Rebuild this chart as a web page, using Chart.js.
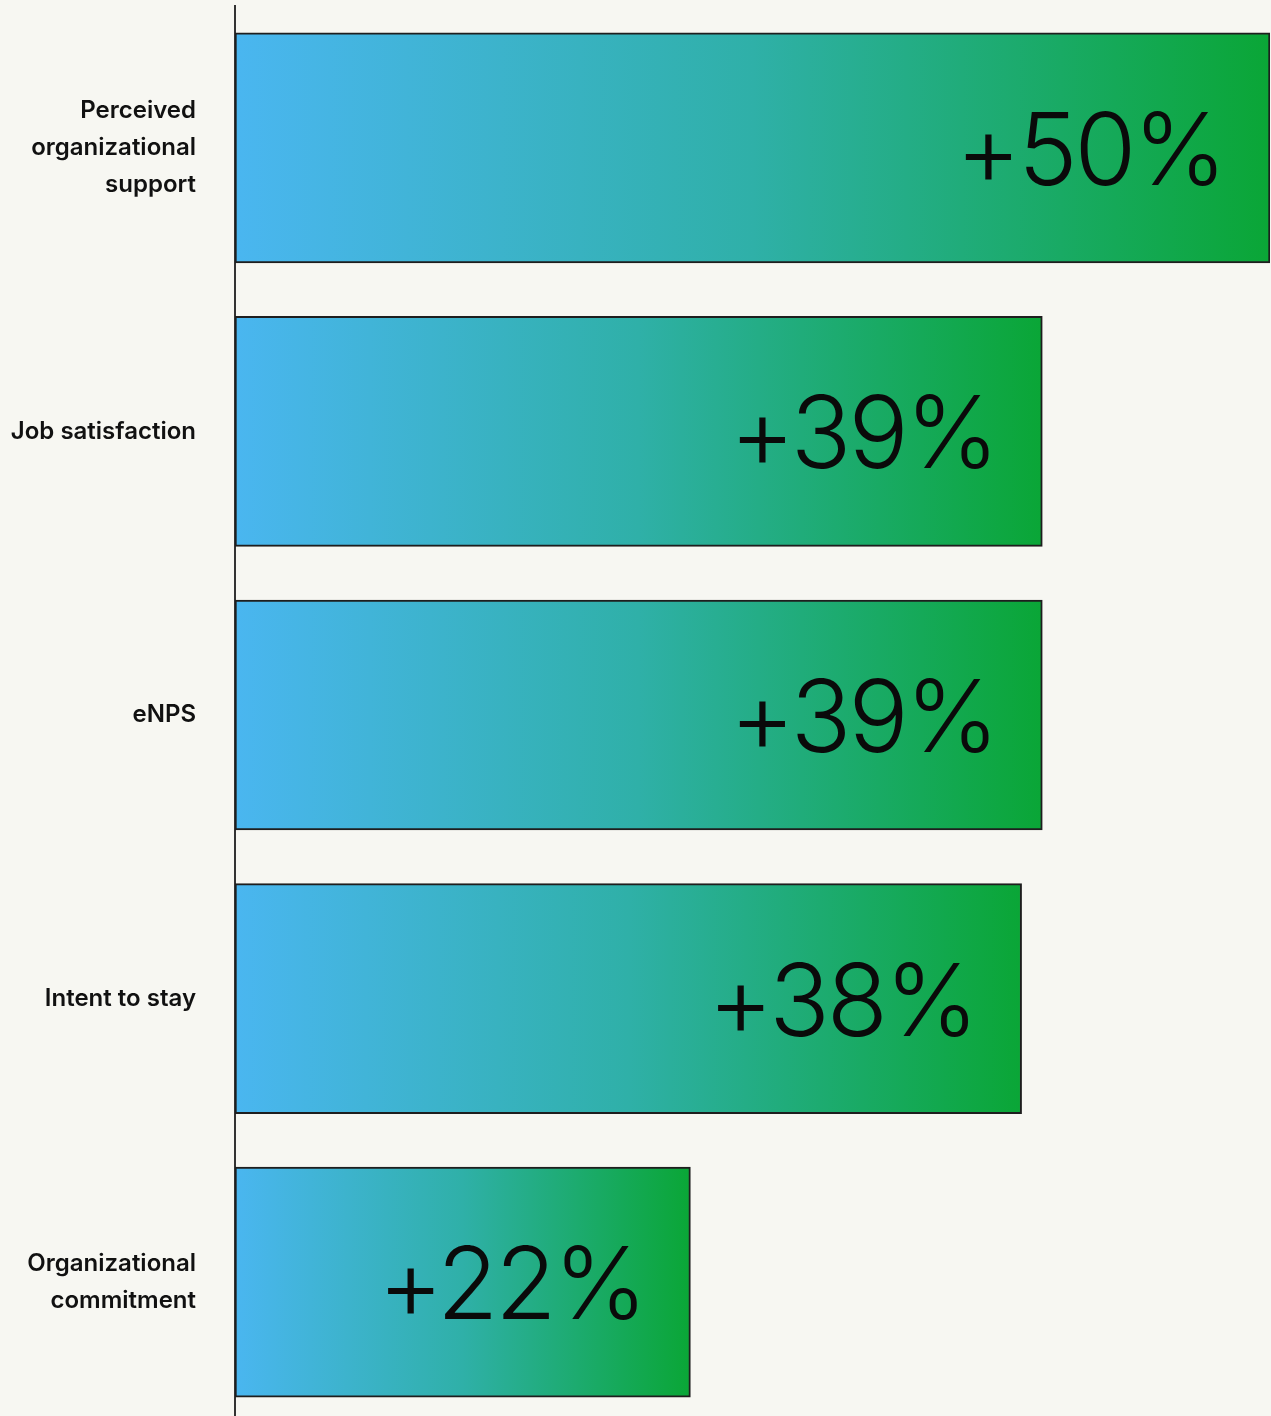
<!DOCTYPE html>
<html>
<head>
<meta charset="utf-8">
<script src="https://cdn.jsdelivr.net/npm/chart.js@4/dist/chart.umd.min.js"></script>
<style>
	html, body { margin: 0; padding: 0; background: #f7f7f2; overflow: hidden; }
	#chart { display: block; }
</style>
</head>
<body>
<canvas id="chart" width="1271" height="1424"></canvas>
<script>
var categories = [
	["Perceived", "organizational", "support"],
	"Job satisfaction",
	"eNPS",
	"Intent to stay",
	["Organizational", "commitment"]
];
var increase = [50, 39, 39, 38, 22];
var axisMax = 50;

function barGradient(context) {
	if (context.type !== 'data') return '#4ab5ee';
	var chart = context.chart;
	if (!chart.chartArea) return '#4ab5ee';
	var xs = chart.scales.x;
	var x0 = xs.getPixelForValue(0);
	var x1 = xs.getPixelForValue(context.raw);
	var g = chart.ctx.createLinearGradient(x0, 0, x1, 0);
	g.addColorStop(0, '#4ab6f0');
	g.addColorStop(0.5, '#2fb0a8');
	g.addColorStop(1, '#0aa636');
	return g;
}

// big "+NN%" text sitting inside the right end of each bar
var valueLabels = {
	id: 'valueLabels',
	afterDatasetsDraw: function(chart) {
		var ctx = chart.ctx;
		var meta = chart.getDatasetMeta(0);
		ctx.save();
		ctx.font = '300 100px Inter';
		ctx.letterSpacing = '-3px';
		ctx.fillStyle = '#0a0a0a';
		ctx.textAlign = 'right';
		ctx.textBaseline = 'alphabetic';
		meta.data.forEach(function(bar, i) {
			ctx.fillText('+' + increase[i] + '%', bar.x - 46, bar.y + 37);
		});
		ctx.restore();
	}
};

var ctx = document.getElementById('chart');
var myChart = new Chart(ctx, {
	type: 'bar',
	data: {
		labels: categories,
		datasets: [{
			data: increase,
			backgroundColor: barGradient,
			borderColor: '#1e1e1e',
			borderWidth: 2,
			borderSkipped: false,
			barThickness: 230
		}]
	},
	options: {
		indexAxis: 'y',
		responsive: false,
		animation: false,
		layout: { autoPadding: false, padding: { top: 6, right: 1, bottom: 0, left: 0 } },
		plugins: {
			legend: { display: false },
			tooltip: { enabled: false }
		},
		scales: {
			x: {
				display: false,
				min: 0,
				max: axisMax
			},
			y: {
				afterFit: function(scale) {
					// fixed label column, no extra room above/below for the labels
					scale.width = 235;
					scale.paddingTop = 0;
					scale.paddingBottom = 0;
				},
				grid: { display: false, drawTicks: false },
				border: { display: true, color: '#333333', width: 2 },
				ticks: {
					padding: 39,
					color: '#111111',
					font: { family: 'Inter', size: 24, weight: '600', lineHeight: 1.55 }
				}
			}
		}
	},
	plugins: [valueLabels]
});
</script>
</body>
</html>
